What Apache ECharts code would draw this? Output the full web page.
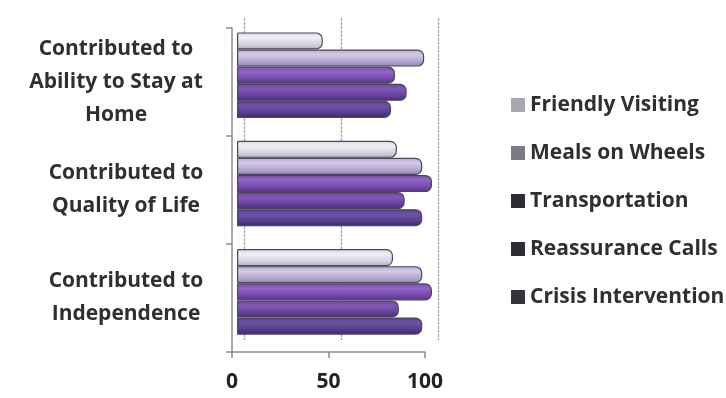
<!DOCTYPE html>
<html>
<head>
<meta charset="utf-8">
<script src="https://cdn.jsdelivr.net/npm/echarts@6/dist/echarts.min.js"></script>
<style>
  html, body { margin: 0; padding: 0; background: #ffffff; }
  #chart { width: 726px; height: 398px; }
</style>
</head>
<body>
<div id="chart"></div>
<script>
// Outcome categories, top to bottom (line-wrapped as displayed)
const categories = [
  'Contributed to\nAbility to Stay at\nHome',
  'Contributed to\nQuality of Life',
  'Contributed to\nIndependence'
];

// Series names (legend order)
const seriesNames = [
  'Friendly Visiting',
  'Meals on Wheels',
  'Transportation',
  'Reassurance Calls',
  'Crisis Intervention'
];

// Percent of clients agreeing, per category
const friendlyVisiting   = [44, 82, 80];
const mealsOnWheels      = [96, 95, 95];
const transportation     = [81, 100, 100];
const reassuranceCalls   = [87, 86, 83];
const crisisIntervention = [79, 95, 95];

const xTicks = [0, 50, 100];

const seriesValues = [friendlyVisiting, mealsOnWheels, transportation, reassuranceCalls, crisisIntervention];

// cylinder-like shading: light, base, dark
const palette = [
  ['#efedf5', '#d9d6e4', '#b4b0c4'],
  ['#d3cbe6', '#b7abd1', '#9484b8'],
  ['#9166c6', '#7a4daf', '#583489'],
  ['#7f59b4', '#69449e', '#48297a'],
  ['#6e52a6', '#5a3f90', '#3e286a']
];
const legendIcon = ['#a7a6b4', '#7b7a86', '#2e2d33', '#2e2d33', '#35343a'];

function shade(c) {
  return new echarts.graphic.LinearGradient(0, 0, 0, 1, [
    { offset: 0, color: c[1] },
    { offset: 0.3, color: c[0] },
    { offset: 0.65, color: c[1] },
    { offset: 1, color: c[2] }
  ]);
}

const font = '"Open Sans", sans-serif';
const axisGrey = '#8a8a8e';
const textColor = '#2f2f2f';

const chart = echarts.init(document.getElementById('chart'), null, { renderer: 'canvas' });

const labelText = { fontFamily: font, fontWeight: 'bold', fontSize: 21, lineHeight: 33, color: textColor };

const option = {
  animation: false,
  backgroundColor: '#ffffff',
  grid: [
    // front axes
    { left: 232, right: 301, top: 28, bottom: 46 },
    // back wall
    { left: 244, right: 288, top: 18, bottom: 58 },
    // bars
    { left: 237, right: 294, top: 21, bottom: 52 }
  ],
  legend: {
    orient: 'vertical',
    left: 511,
    top: 93,
    padding: 0,
    itemWidth: 14,
    itemHeight: 14,
    itemGap: 24,
    icon: 'rect',
    textStyle: { fontFamily: font, fontWeight: 'bold', fontSize: 21, lineHeight: 24, color: textColor },
    data: seriesNames.map((n, i) => ({ name: n, itemStyle: { color: legendIcon[i], borderWidth: 0 } }))
  },
  xAxis: [
    {
      gridIndex: 0, type: 'value', min: 0, max: 100, interval: 50,
      axisLine: { show: true, lineStyle: { color: axisGrey, width: 1.5 } },
      axisTick: { show: true, length: 6, lineStyle: { color: axisGrey, width: 1.5 } },
      axisLabel: { margin: 20, fontFamily: font, fontWeight: 'bold', fontSize: 21, color: '#222',
        formatter: v => xTicks.includes(v) ? String(v) : '' },
      splitLine: { show: false }
    },
    {
      gridIndex: 1, type: 'value', min: 0, max: 100, interval: 50,
      axisLine: { show: false }, axisTick: { show: false }, axisLabel: { show: false },
      splitLine: { show: true, lineStyle: { color: '#a3a3a8', width: 1.3, type: [3, 1] } }
    },
    {
      gridIndex: 2, type: 'value', min: 0, max: 100, show: false
    }
  ],
  yAxis: [
    {
      gridIndex: 0, type: 'category', data: categories, inverse: true,
      axisLine: { show: true, lineStyle: { color: axisGrey, width: 1.5 } },
      axisTick: { show: true, length: 6, lineStyle: { color: axisGrey, width: 1.5 } },
      axisLabel: {
        margin: 106, align: 'center',
        formatter: (v, idx) => {
          const key = idx === 0 ? 'a' : 'b';
          return v.split('\n').map(line => '{' + key + '|' + line + '}').join('\n');
        },
        rich: {
          a: Object.assign({}, labelText, { padding: [0, 20, 0, 0] }),
          b: Object.assign({}, labelText)
        }
      }
    },
    {
      gridIndex: 1, type: 'category', data: categories, inverse: true,
      axisLine: { show: false }, axisTick: { show: false }, axisLabel: { show: false },
      splitLine: { show: false }
    },
    {
      gridIndex: 2, type: 'category', data: categories, inverse: true, show: false
    }
  ],
  series: seriesNames.map((name, i) => ({
    name,
    type: 'bar',
    xAxisIndex: 2,
    yAxisIndex: 2,
    data: seriesValues[i],
    barGap: '0%',
    barCategoryGap: '21%',
    clip: false,
    itemStyle: {
      color: shade(palette[i]),
      borderColor: '#4b4658',
      borderWidth: 1.2,
      borderRadius: [0, 6, 6, 0]
    }
  }))
};

chart.setOption(option);
</script>
</body>
</html>
